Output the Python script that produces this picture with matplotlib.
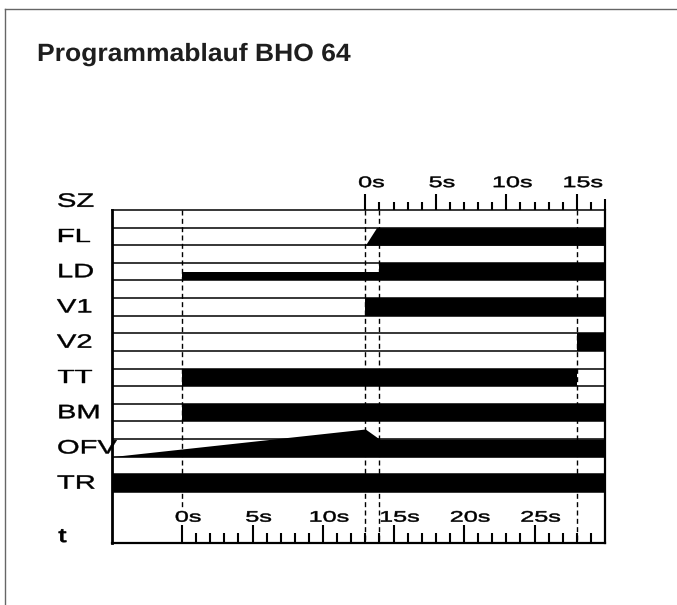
import matplotlib
matplotlib.use('Agg')
import matplotlib.pyplot as plt
import numpy as np
from matplotlib.patheffects import AbstractPathEffect
from matplotlib.transforms import Affine2D
from matplotlib.lines import Line2D

plt.rcParams['font.family'] = ['Liberation Sans', 'DejaVu Sans']

# ---------------- data ----------------
title = 'Programmablauf BHO 64'
signals = ['FL', 'LD', 'V1', 'V2', 'TT', 'BM', 'OFV', 'TR']

# time (s, lower scale) and level (1 = full row height)
FL_t = [-5, 13, 13.8, 30]
FL_v = [0, 0, 1, 1]
LD_t = [-5, 0, 0, 14, 14, 30]
LD_v = [0, 0, 0.5, 0.5, 1, 1]
V1_t = [-5, 13, 13, 30]
V1_v = [0, 0, 1, 1]
V2_t = [-5, 28, 28, 30]
V2_v = [0, 0, 1, 1]
TT_t = [-5, 0, 0, 28, 28, 30]
TT_v = [0, 0, 1, 1, 0, 0]
BM_t = [-5, 0, 0, 30]
BM_v = [0, 0, 1, 1]
OFV_t = [-5, 13, 14, 30]
OFV_v = [0, 1.57, 1, 1]
TR_t = [-5, 30]
TR_v = [1, 1]

series_t = [FL_t, LD_t, V1_t, V2_t, TT_t, BM_t, OFV_t, TR_t]
series_v = [FL_v, LD_v, V1_v, V2_v, TT_v, BM_v, OFV_v, TR_v]

marker_times = [0, 13, 14, 28]          # dashed vertical lines
lower_ticks = list(range(0, 30))
lower_labels = [0, 5, 10, 15, 20, 25]
upper_origin = 13                       # upper scale 0s = lower 13s
upper_ticks = list(range(0, 18))
upper_labels = [0, 5, 10, 15]


# ---------------- helper: horizontally stretched text ----------------
class StretchX(AbstractPathEffect):
    def __init__(self, sx=1.5, anchor='left', stroke=0.0):
        super().__init__()
        self.sx = sx
        self.anchor = anchor
        self.stroke = stroke

    def draw_path(self, renderer, gc, tpath, affine, rgbFace=None):
        m = affine.get_matrix().copy()
        x0 = m[0, 2]
        if self.anchor == 'center':
            ext = tpath.get_extents(Affine2D(m))
            c = 0.5 * (ext.x0 + ext.x1)
        else:
            c = x0
        m[0, 0] *= self.sx
        m[0, 1] *= self.sx
        m[0, 2] = self.sx * x0 + (1 - self.sx) * c
        aff = Affine2D(m)
        if self.stroke > 0 and rgbFace is not None:
            gc2 = renderer.new_gc()
            gc2.copy_properties(gc)
            gc2.set_linewidth(self.stroke)
            gc2.set_foreground(rgbFace)
            renderer.draw_path(gc2, tpath, aff, rgbFace)
            gc2.restore()
        else:
            renderer.draw_path(gc, tpath, aff, rgbFace)


# ---------------- figure ----------------
W, H = 677, 605
fig = plt.figure(figsize=(W / 100, H / 100), dpi=100)
ax = fig.add_axes([111.5 / W, (H - 543) / H, 493.5 / W, 333 / H])
ax.set_xlim(-5, 30)
ymax = 18.9
ax.set_ylim(ymax, 0)
ax.set_xticks([])
ax.set_yticks([])
for side, lw in [('left', 2.0), ('right', 1.6), ('top', 1.1), ('bottom', 1.6)]:
    ax.spines[side].set_linewidth(lw)
    ax.spines[side].set_color('black')

# dashed markers
dash_end = [16.95, ymax, ymax, ymax]
for t, e in zip(marker_times, dash_end):
    ax.vlines(t, 0, e, colors='black', lw=1.0, linestyles=(0, (3.6, 2.4)), zorder=1)

# signal fills
for i, (t, v) in enumerate(zip(series_t, series_v)):
    base = 2 * i + 2
    ax.fill_between(t, base - np.array(v, dtype=float), base,
                    color='black', lw=0, zorder=2)

# row lines
ax.hlines(np.arange(1, 17), -5, 30, colors='black', lw=1.1, zorder=3)

# lower ticks
lt = np.array(lower_ticks)
llen = np.where(lt % 5 == 0, 1.02, 0.57)
ax.vlines(lt, ymax - llen, ymax, colors='black', lw=1.5, zorder=4)

# upper ticks
ut = np.array(upper_ticks)
ulen = np.where(ut % 5 == 0, 0.91, 0.45)
ulen[-1] = 0.6
ax.vlines(ut + upper_origin, -ulen, 0, colors='black', lw=1.5, zorder=4,
          clip_on=False)

# tick labels
tick_fx = [StretchX(1.65, 'center', stroke=0.35)]
for k in lower_labels:
    ax.text(k + 0.43, 17.69, f'{k}s', ha='center', va='baseline', fontsize=11,
            color='black', path_effects=tick_fx, zorder=5)
for k in upper_labels:
    ax.text(k + upper_origin + 0.43, -1.30, f'{k}s', ha='center', va='baseline',
            fontsize=11, color='black', path_effects=tick_fx,
            clip_on=False, zorder=5)

# row labels
label_fx = [StretchX(1.5, stroke=0.3)]
label_x = -8.87
ax.text(label_x, -1 + 0.82, 'SZ', ha='left', va='baseline', fontsize=14,
        color='black', path_effects=label_fx, clip_on=False)
for i, name in enumerate(signals):
    ax.text(label_x, 2 * i + 1 + 0.82, name, ha='left', va='baseline',
            fontsize=14, color='black', path_effects=label_fx,
            clip_on=False, zorder=6)
ax.text(label_x + 0.1, 18.84, 't', ha='left', va='baseline', fontsize=14,
        color='black', path_effects=[StretchX(1.5, stroke=0.6)], clip_on=False)

# title
fig.text(37 / W, 1 - 61 / H, title, fontsize=18, fontweight='bold',
         ha='left', va='baseline', color='#1e1e1e',
         path_effects=[StretchX(1.06)])

# outer frame (left and top only visible)
fig.add_artist(Line2D([4.5 / W, 4.5 / W], [0, 1 - 9 / H], transform=fig.transFigure,
                      color='#666666', lw=1.0))
fig.add_artist(Line2D([4.5 / W, 1], [1 - 9 / H, 1 - 9 / H], transform=fig.transFigure,
                      color='#666666', lw=1.0))

fig.savefig('out.png', dpi=100, facecolor='white')
